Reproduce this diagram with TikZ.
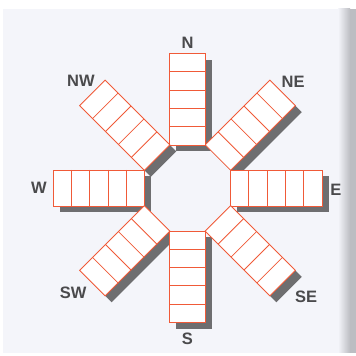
\documentclass[tikz,border=0pt]{standalone}
\usepackage{fontspec}
\setsansfont{Liberation Sans}
\usetikzlibrary{calc}
\definecolor{armred}{HTML}{F05A38}
\definecolor{shadowgray}{HTML}{6E6E70}
\definecolor{pagebg}{HTML}{F4F5FA}
\definecolor{edgegray}{HTML}{BCBDC2}
\definecolor{labelgray}{HTML}{4A4A4C}

\begin{document}
\begin{tikzpicture}[
  x=1pt, y=1pt,
  every node/.style={font=\sffamily\bfseries\fontsize{16.5}{16.5}\selectfont, text=labelgray},
  armbox/.style={draw=armred, line width=0.8pt, fill=white},
  cellline/.style={draw=armred, line width=0.8pt},
  armshadow/.style={fill=shadowgray}
]
\useasboundingbox (0,0) rectangle (356,356);

% Page background
\fill[white] (0,0) rectangle (356,356);
\fill[pagebg] (3,3) rectangle (356,347);
\shade[left color=pagebg, right color=edgegray] (338,3) rectangle (350,347);
\fill[edgegray] (350,3) rectangle (356,347);

\coordinate (C) at (187.5,168);

% Shadows
\begin{scope}[shift={($(C)+(6.5,-6.5)$)}]
  \foreach \ang in {0,45,...,315}
    \fill[armshadow, rotate=\ang] (43,-18) rectangle (134.5,18);
\end{scope}

% Arms with five cells each
\foreach \ang in {0,45,...,315} {
  \begin{scope}[shift={(C)}, rotate=\ang]
    \path[armbox] (43,-18) rectangle (134.5,18);
    \foreach \k in {1,...,4}
      \draw[cellline] ({43+18.3*\k},-18) -- ({43+18.3*\k},18);
  \end{scope}
}

% Direction labels
\foreach \lbl/\ang/\r in {N/90/145, NE/45.1/149.6, E/-0.8/148.5, SE/-42.6/161,
                          S/-90/151, SW/222.5/155, W/180/148.5, NW/134.9/151}
  \node (lbl\lbl) at ($(C)+(\ang:\r)$) {\lbl};

\end{tikzpicture}
\end{document}
